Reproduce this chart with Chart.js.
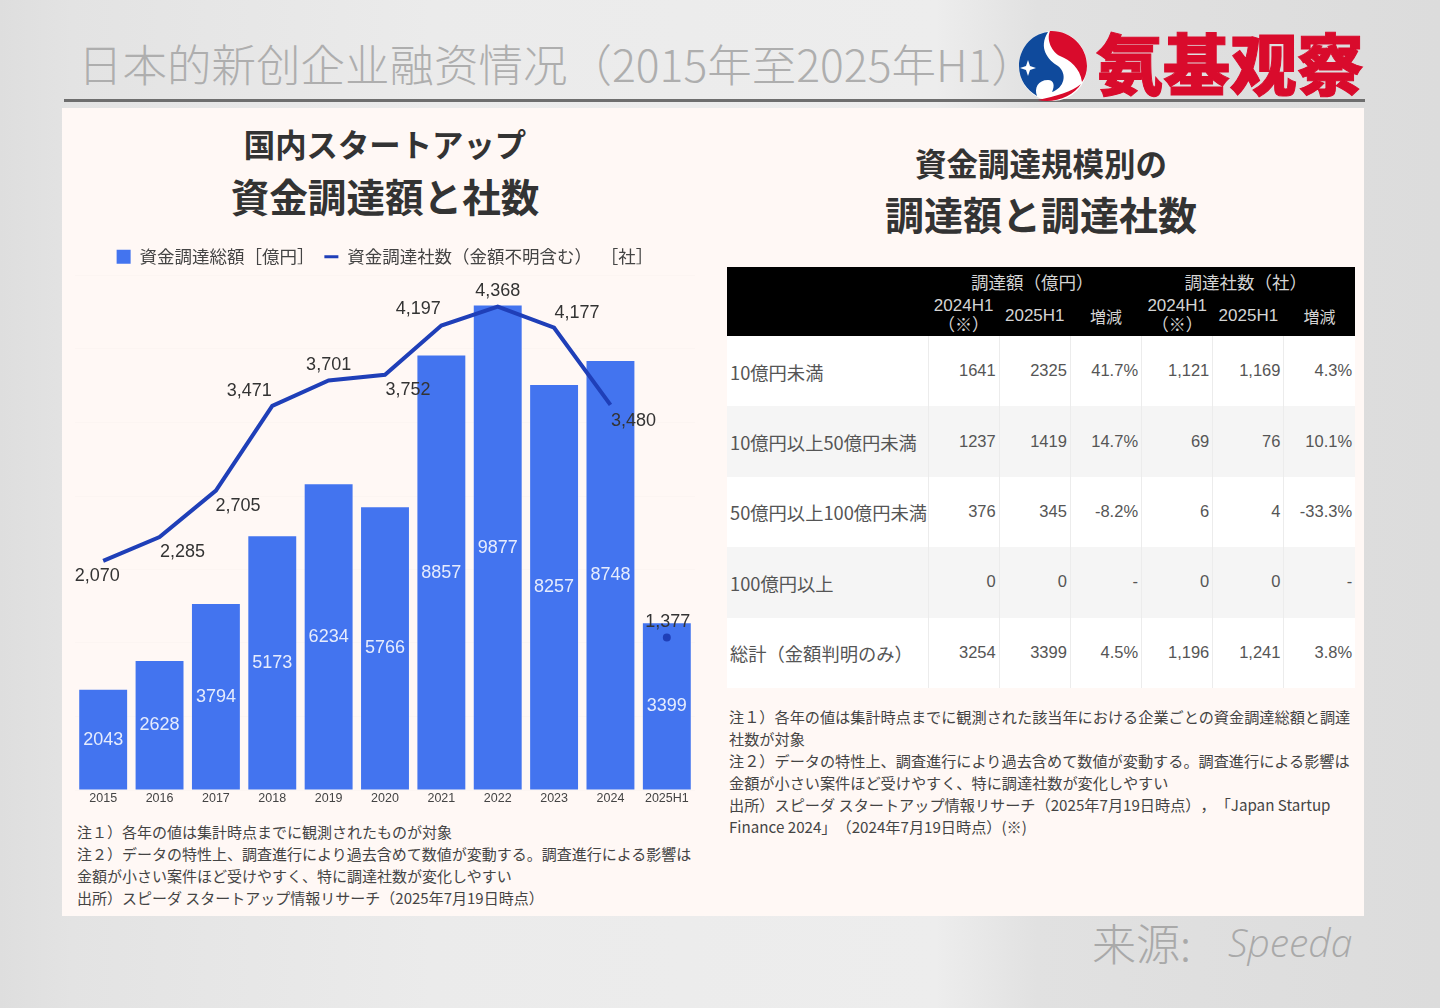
<!DOCTYPE html>
<html lang="ja">
<head>
<meta charset="utf-8">
<title>日本的新创企业融资情况</title>
<script src="https://cdn.jsdelivr.net/npm/chart.js@4"></script>
<style>
html, body { margin: 0; padding: 0; }
body {
	width: 1440px; height: 1008px; position: relative; overflow: hidden;
	background:
		linear-gradient(90deg, #dedede 0, #e3e3e3 5%, #ebebeb 30%, #ededed 65%, #e1e1e1 72%, #dcdcdc 100%);
	font-family: "Noto Sans CJK JP", sans-serif;
}
.abs { position: absolute; white-space: nowrap; }
#pageTitle { left: 78px; top: 31px; font-size: 44.5px; line-height: 64px; color: #aeaeae; font-family: "Noto Sans CJK SC"; font-weight: 300; }
#rule { left: 64px; top: 99px; width: 1301px; height: 3px; background: #6e6e6e; }
#brand { left: 1096px; top: 21px; font-size: 67px; line-height: 80px; font-weight: 900; color: #d90b2c; font-family: "Noto Sans CJK SC"; -webkit-text-stroke: 1px #d90b2c; }
#logo { left: 1018px; top: 30px; }
#panel { left: 62px; top: 108px; width: 1302px; height: 808px; background: #fff8f5; }
.head { color: #333; font-weight: 700; transform: translateX(-50%); }
.note { font-size: 15px; line-height: 22px; color: #444; text-spacing-trim: space-all; }
#chartBox { left: 62px; top: 238px; width: 650px; height: 569px; }
#sizeTable { left: 727px; top: 267px; width: 628px; border-collapse: collapse; table-layout: fixed; white-space: normal; text-spacing-trim: space-all; }
#sizeTable thead tr { background: #000; color: #d4d4d4; }
#sizeTable th { font-weight: 400; font-size: 16px; line-height: 20px; padding: 0; text-align: center; }
#sizeTable th.group { font-size: 17.5px; padding: 0 5px 0 0; }
#sizeTable th.num { font-family: "Liberation Sans", "Noto Sans CJK JP"; font-size: 17px; }
#sizeTable td { font-size: 18.3px; color: #555; height: 70.4px; padding: 0; border-left: 1px solid #ececec; box-sizing: border-box; }
#sizeTable td.lab { padding: 1px 0 0 3px; white-space: nowrap; border-left: none; }
#sizeTable td.val { text-align: right; padding-right: 3px; font-family: "Liberation Sans"; font-size: 16.5px; padding-bottom: 1px; }
#sizeTable tbody tr:nth-child(odd) { background: #fff; }
#sizeTable tbody tr:nth-child(even) { background: #f5f5f5; }
#source { left: 1092px; top: 910px; font-size: 44px; line-height: 64px; color: #a9a9a9; font-family: "Noto Sans CJK SC"; font-weight: 300; }
#speeda { left: 1228px; top: 917px; font-size: 39px; line-height: 50px; color: #a9a9a9; font-style: italic; font-family: "Open Sans"; font-weight: 300; }
</style>
</head>
<body>
<div class="abs" id="pageTitle">日本的新创企业融资情况（2015年至2025年H1）</div>
<div class="abs" id="rule"></div>
<svg class="abs" id="logo" width="70" height="72" viewBox="0 0 70 72">
	<ellipse cx="35" cy="36" rx="34" ry="35" fill="#fff"/>
	<path d="M30 2 C12 4 1 20 1 36 C1 50 9 60 19 66 C16 58 20 50 30 50 C36 50 37 56 34 62 C46 58 50 44 40 36 C30 30 20 18 30 2Z" fill="#0f4a9c"/>
	<path d="M32 1 C52 0 69 16 69 36 C69 42 67 48 64 52 C62 38 52 30 42 26 C34 22 28 10 32 1Z" fill="#d90b2c"/>
	<path d="M20 70 C36 74 56 66 63 54 C54 62 38 66 20 70Z" fill="#d90b2c"/>
	<path d="M10 30 L12 36 L18 38 L12 40 L10 46 L8 40 L2 38 L8 36Z" fill="#fff"/>
</svg>
<div class="abs" id="brand">氨基观察</div>
<div class="abs" id="panel"></div>

<div class="abs head" style="left:385px; top:121px; font-size:31.4px; line-height:46px;">国内スタートアップ</div>
<div class="abs head" style="left:385px; top:167px; font-size:38.6px; line-height:56px;">資金調達額と社数</div>
<div class="abs" id="chartBox"><canvas id="fundingChart"></canvas></div>
<div class="abs note" style="left:77px; top:821px;">注１）各年の値は集計時点までに観測されたものが対象<br>注２）データの特性上、調査進行により過去含めて数値が変動する。調査進行による影響は<br>金額が小さい案件ほど受けやすく、特に調達社数が変化しやすい<br>出所）スピーダ スタートアップ情報リサーチ（2025年7月19日時点）</div>

<div class="abs head" style="left:1041px; top:139px; font-size:31.5px; line-height:46px;">資金調達規模別の</div>
<div class="abs head" style="left:1041px; top:185px; font-size:39px; line-height:56px;">調達額と調達社数</div>
<table class="abs" id="sizeTable"></table>
<div class="abs note" style="left:729px; top:705px; font-size:15.17px;">注１）各年の値は集計時点までに観測された該当年における企業ごとの資金調達総額と調達<br>社数が対象<br>注２）データの特性上、調査進行により過去含めて数値が変動する。調査進行による影響は<br>金額が小さい案件ほど受けやすく、特に調達社数が変化しやすい<br>出所）スピーダ スタートアップ情報リサーチ（2025年7月19日時点），「Japan Startup<br>Finance 2024」（2024年7月19日時点）(※)</div>

<div class="abs" id="source">来源:</div>
<div class="abs" id="speeda">Speeda</div>

<script>
const years = ['2015', '2016', '2017', '2018', '2019', '2020', '2021', '2022', '2023', '2024', '2025H1'];
const fundingTotal = [2043, 2628, 3794, 5173, 6234, 5766, 8857, 9877, 8257, 8748, 3399];
const companyCount = [2070, 2285, 2705, 3471, 3701, 3752, 4197, 4368, 4177, 3480, 1377];

const sizeLabels = ['10億円未満', '10億円以上50億円未満', '50億円以上100億円未満', '100億円以上', '総計（金額判明のみ）'];
const amount2024 = ['1641', '1237', '376', '0', '3254'];
const amount2025 = ['2325', '1419', '345', '0', '3399'];
const amountChange = ['41.7%', '14.7%', '-8.2%', '-', '4.5%'];
const count2024 = ['1,121', '69', '6', '0', '1,196'];
const count2025 = ['1,169', '76', '4', '0', '1,241'];
const countChange = ['4.3%', '10.1%', '-33.3%', '-', '3.8%'];

// table
let tableHtml = '<colgroup><col style="width:201px">' + '<col style="width:71.2px">'.repeat(6) + '</colgroup>';
tableHtml += '<thead><tr style="height:29px"><th></th><th colspan="3" class="group">調達額（億円）</th><th colspan="3" class="group">調達社数（社）</th></tr>';
tableHtml += '<tr style="height:40px"><th></th>';
for (let i = 0; i < 2; i++) {
	tableHtml += '<th class="num">2024H1<br>（※）</th><th class="num">2025H1</th><th>増減</th>';
}
tableHtml += '</tr></thead><tbody>';
sizeLabels.forEach((label, i) => {
	tableHtml += '<tr><td class="lab">' + label + '</td>';
	[amount2024, amount2025, amountChange, count2024, count2025, countChange].forEach(col => {
		tableHtml += '<td class="val">' + col[i] + '</td>';
	});
	tableHtml += '</tr>';
});
document.getElementById('sizeTable').innerHTML = tableHtml + '</tbody>';

// where each line label sits relative to its point
const labelShift = [[-6, 15], [23, 15], [22, 15], [-23, -15], [0, -15], [23, 15], [-23, -16], [0, -16], [23, -15], [23, 16], [1, -16]];

const valueLabels = {
	id: 'valueLabels',
	afterDatasetsDraw(chart) {
		const ctx = chart.ctx;
		ctx.save();
		ctx.textAlign = 'center';
		ctx.textBaseline = 'middle';
		ctx.font = '18px "Liberation Sans"';
		ctx.fillStyle = '#e6ecfd';
		chart.getDatasetMeta(0).data.forEach((bar, i) => {
			ctx.fillText(fundingTotal[i], bar.x, (bar.y + bar.base) / 2);
		});
		ctx.fillStyle = '#333';
		chart.getDatasetMeta(1).data.forEach((pt, i) => {
			ctx.fillText(companyCount[i].toLocaleString('en-US'), pt.x + labelShift[i][0], pt.y + labelShift[i][1]);
		});
		ctx.restore();
	}
};

new Chart(document.getElementById('fundingChart'), {
	type: 'bar',
	data: {
		labels: years,
		datasets: [
			{
				label: '資金調達総額［億円］',
				data: fundingTotal,
				backgroundColor: '#4374ef',
				categoryPercentage: 1,
				barPercentage: 0.85,
				yAxisID: 'y',
				order: 2
			},
			{
				type: 'line',
				label: '資金調達社数（金額不明含む）\u2002［社］',
				data: companyCount,
				borderColor: '#1f3fb8',
				borderWidth: 4,
				tension: 0,
				pointStyle: 'circle',
				pointRadius: c => c.dataIndex === 10 ? 2.5 : 0,
				pointBackgroundColor: '#1f3fb8',
				pointBorderColor: '#1f3fb8',
				pointBorderWidth: 3,
				// 2025H1 is half a year, not joined to the line
				segment: { borderColor: c => c.p1DataIndex === 10 ? 'transparent' : '#1f3fb8' },
				yAxisID: 'y1',
				order: 1
			}
		]
	},
	options: {
		responsive: true,
		maintainAspectRatio: false,
		animation: false,
		layout: { padding: { left: 13, right: 17, top: 0, bottom: 0 } },
		plugins: {
			tooltip: { enabled: false },
			legend: {
				position: 'top',
				labels: {
					usePointStyle: true,
					boxHeight: 14,
					pointStyleWidth: 14,
					padding: 10,
					color: '#444',
					font: { family: '"Noto Sans CJK JP"', size: 17.5 },
					sort: (a, b) => a.datasetIndex - b.datasetIndex,
					generateLabels(chart) {
						const items = Chart.defaults.plugins.legend.labels.generateLabels(chart);
						items.forEach(item => {
							item.pointStyle = item.datasetIndex === 0 ? 'rect' : 'line';
						});
						return items;
					}
				}
			}
		},
		scales: {
			x: {
				grid: { display: false, drawTicks: false },
				border: { display: false },
				ticks: { color: '#444', font: { family: '"Liberation Sans"', size: 12.5 }, maxRotation: 0, autoSkip: false, padding: 1 }
			},
			y: {
				min: 0,
				max: 10490,
				grid: { color: 'rgba(0,0,0,0.012)', drawTicks: false },
				border: { display: false },
				ticks: { display: false, stepSize: 1500 },
				afterFit: scale => { scale.width = 0; }
			},
			y1: {
				display: false,
				min: 0,
				max: 4649
			}
		}
	},
	plugins: [valueLabels]
});
</script>
</body>
</html>
